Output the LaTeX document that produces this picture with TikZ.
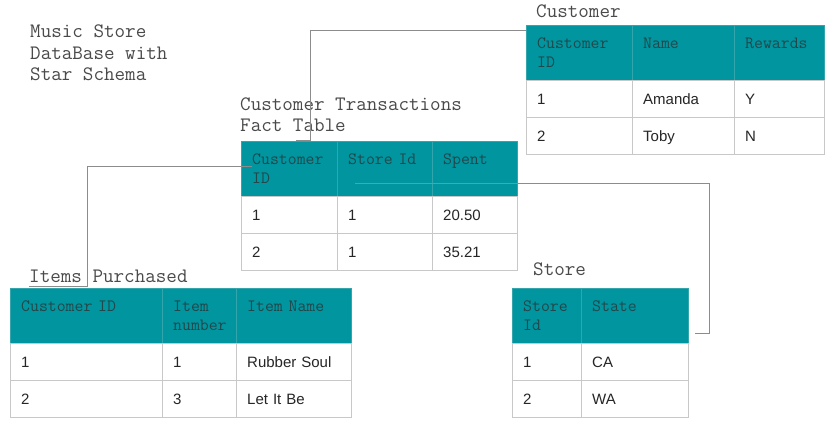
\documentclass[tikz,border=0pt]{standalone}
\usepackage{fontspec}
\setmainfont{Liberation Sans}
\definecolor{headfill}{HTML}{00959F}
\definecolor{headtext}{HTML}{23474A}
\definecolor{headline}{HTML}{33A5AD}
\definecolor{cellline}{HTML}{C8C8C8}
\definecolor{titlegray}{HTML}{4A4A4A}
\definecolor{linkgray}{HTML}{8C8C8C}
\begin{document}
\begin{tikzpicture}[x=1pt,y=-1pt,
  every node/.style={inner sep=0pt},
  title/.style={font=\ttfamily\fontsize{20.5}{21.5}\selectfont, text=titlegray, anchor=base west, align=left},
  head/.style={draw=headline, fill=headfill, anchor=north west, minimum height=55pt, inner xsep=11pt,
    align=left, font=\ttfamily\fontsize{17.3}{19}\selectfont, text=headtext},
  cell/.style={draw=cellline, fill=white, anchor=north west, minimum height=37pt, inner xsep=11pt,
    align=left, font=\fontsize{15}{18}\selectfont, text=black!85, text height=11pt, text depth=0pt},
  link/.style={draw=linkgray, line width=0.8pt}]
\fill[white] (0,0) rectangle (835,430);
\useasboundingbox (0,0) rectangle (835,430);

\node[title] (maintitle) at (30,81) {Music Store\\DataBase with\\Star Schema};

% Customer
\node[title] (custtitle) at (536,18) {Customer};
\node[head, text width=84pt] (ch1) at (526,25) {Customer\\ID};
\node[head, text width=80pt] (ch2) at (632,25) {Name\\\mbox{}};
\node[head, text width=68pt] (ch3) at (734,25) {Rewards\\\mbox{}};
\node[cell, text width=84pt] (c11) at (526,80) {1};
\node[cell, text width=80pt] (c12) at (632,80) {Amanda};
\node[cell, text width=68pt] (c13) at (734,80) {Y};
\node[cell, text width=84pt] (c21) at (526,117) {2};
\node[cell, text width=80pt] (c22) at (632,117) {Toby};
\node[cell, text width=68pt] (c23) at (734,117) {N};

% Customer Transactions
\node[title] (facttitle) at (240,132) {Customer Transactions\\Fact Table};
\node[head, text width=74pt] (fh1) at (241,141) {Customer\\ID};
\node[head, text width=73pt] (fh2) at (337,141) {Store Id\\\mbox{}};
\node[head, text width=63pt] (fh3) at (432,141) {Spent\\\mbox{}};
\node[cell, text width=74pt] (f11) at (241,196) {1};
\node[cell, text width=73pt] (f12) at (337,196) {1};
\node[cell, text width=63pt] (f13) at (432,196) {20.50};
\node[cell, text width=74pt] (f21) at (241,233) {2};
\node[cell, text width=73pt] (f22) at (337,233) {1};
\node[cell, text width=63pt] (f23) at (432,233) {35.21};

% Items Purchased
\node[title] (itemstitle) at (29,283) {Items Purchased};
\node[head, text width=130pt] (ih1) at (10,288) {Customer ID\\\mbox{}};
\node[head, text width=52pt] (ih2) at (162,288) {Item\\number};
\node[head, text width=93pt] (ih3) at (236,288) {Item Name\\\mbox{}};
\node[cell, text width=130pt] (i11) at (10,343) {1};
\node[cell, text width=52pt] (i12) at (162,343) {1};
\node[cell, text width=93pt] (i13) at (236,343) {Rubber Soul};
\node[cell, text width=130pt] (i21) at (10,380) {2};
\node[cell, text width=52pt] (i22) at (162,380) {3};
\node[cell, text width=93pt] (i23) at (236,380) {Let It Be};

% Store
\node[title] (storetitle) at (533,276) {Store};
\node[head, text width=47pt] (sh1) at (512,288) {Store\\Id};
\node[head, text width=85pt] (sh2) at (581,288) {State\\\mbox{}};
\node[cell, text width=47pt] (s11) at (512,343) {1};
\node[cell, text width=85pt] (s12) at (581,343) {CA};
\node[cell, text width=47pt] (s21) at (512,380) {2};
\node[cell, text width=85pt] (s22) at (581,380) {WA};

% links
\coordinate (k1) at ([xshift=55pt,yshift=1pt]fh1.north west);
\draw[link] ([yshift=-5pt]ch1.north west) -| ([xshift=14pt]k1) -- (k1);
\coordinate (k2) at ([xshift=11pt,yshift=-25pt]fh1.north west);
\coordinate (k3) at ([xshift=19pt,yshift=2pt]ih1.north west);
\draw[link] (k2) -| ([xshift=58pt]k3) -- (k3);
\coordinate (k4) at ([xshift=18pt,yshift=-42pt]fh2.north west);
\coordinate (k5) at ([xshift=7pt,yshift=-45pt]sh2.north east);
\draw[link] (k4) -| ([xshift=14pt]k5) -- (k5);
\end{tikzpicture}
\end{document}
